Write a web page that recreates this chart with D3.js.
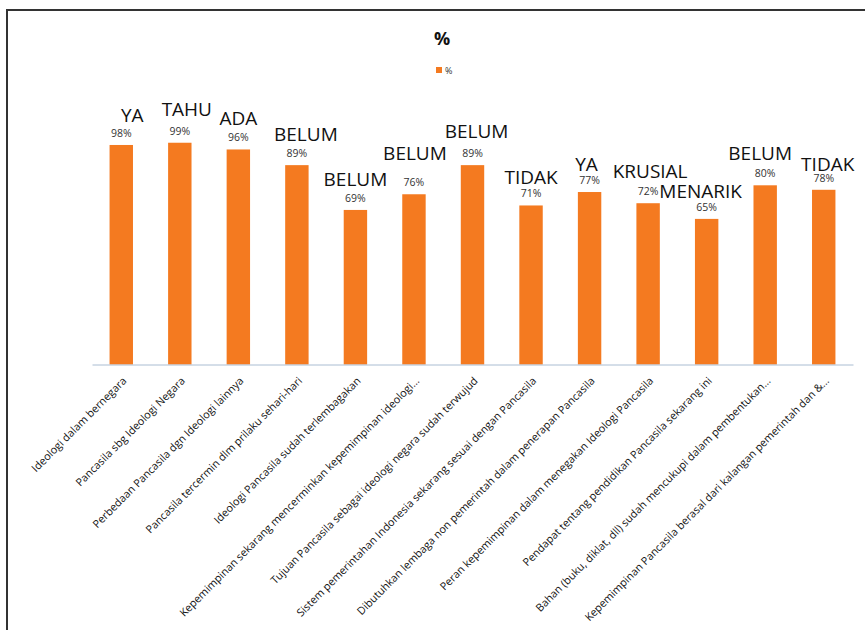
<!DOCTYPE html>
<html>
<head>
<meta charset="utf-8">
<script src="https://cdn.jsdelivr.net/npm/d3@7"></script>
<style>
  body { margin: 0; background: #fff; }
  text { font-family: 'Open Sans', sans-serif; }
</style>
</head>
<body>
<svg id="chart" width="865" height="630"></svg>
<script>
// survey items on the x axis
var categories = [
  'Ideologi dalam bernegara',
  'Pancasila sbg Ideologi Negara',
  'Perbedaan Pancasila dgn Ideologi lainnya',
  'Pancasila tercermin dlm prilaku sehari-hari',
  'Ideologi Pancasila sudah terlembagakan',
  'Kepemimpinan sekarang mencerminkan kepemimpinan ideologi...',
  'Tujuan Pancasila sebagai ideologi negara sudah terwujud',
  'Sistem pemerintahan Indonesia sekarang sesuai dengan Pancasila',
  'Dibutuhkan lembaga non pemerintah dalam penerapan Pancasila',
  'Peran kepemimpinan dalam menegakan Ideologi Pancasila',
  'Pendapat tentang pendidikan Pancasila sekarang ini',
  'Bahan (buku, diklat, dll) sudah mencukupi dalam pembentukan...',
  'Kepemimpinan Pancasila berasal dari kalangan pemerintah dan &...'
];

// share of respondents (%)
var values = [98, 99, 96, 89, 69, 76, 89, 71, 77, 72, 65, 80, 78];

// majority answer written above each bar
var answers = ['YA', 'TAHU', 'ADA', 'BELUM', 'BELUM', 'BELUM', 'BELUM', 'TIDAK', 'YA', 'KRUSIAL', 'MENARIK', 'BELUM', 'TIDAK'];

var seriesName = '%';

// hand placed nudges for the answer words, [dx, dy] in px
var answerNudge = [[11, 1], [7, -3], [0, 0], [9, 0], [0, 0], [1, -10], [4, -3], [0, 3], [-3, 3], [2, -1], [-6, 3], [-5, -1], [4, 5]];

var barColor = '#f47a20';

var svg = d3.select('#chart');

// frame (only top and left edges show)
svg.append('path')
  .attr('d', 'M7,630 V10 H865')
  .attr('fill', 'none')
  .attr('stroke', '#333')
  .attr('stroke-width', 2);

var x = d3.scaleBand()
  .domain(categories)
  .range([92, 853])
  .paddingInner(0.6)
  .paddingOuter(0.3);

var y = d3.scaleLinear()
  .domain([0, 100])
  .range([364.5, 140.5]);

// title + legend
svg.append('text')
  .attr('x', 442)
  .attr('y', 45)
  .attr('text-anchor', 'middle')
  .style('font-size', '18px')
  .style('font-weight', 'bold')
  .attr('fill', '#111')
  .text(seriesName);

svg.append('rect')
  .attr('x', 436).attr('y', 67)
  .attr('width', 6).attr('height', 6)
  .attr('fill', barColor);

svg.append('text')
  .attr('x', 445).attr('y', 73.5)
  .style('font-size', '9px')
  .attr('fill', '#333')
  .text(seriesName);

// bars
svg.append('g')
  .selectAll('rect')
  .data(values)
  .enter().append('rect')
    .attr('x', function(d, i) { return x(categories[i]); })
    .attr('y', function(d) { return y(d); })
    .attr('width', x.bandwidth())
    .attr('height', function(d) { return y(0) - y(d); })
    .attr('fill', barColor);

// x axis
var xAxis = svg.append('g')
  .attr('transform', 'translate(0,' + y(0) + ')')
  .call(d3.axisBottom(x).tickSize(0).tickFormat(''));
xAxis.select('.domain').attr('stroke', '#aabdd2').attr('stroke-width', 1);

svg.append('g')
  .selectAll('text')
  .data(categories)
  .enter().append('text')
    .attr('transform', function(d) {
      return 'translate(' + (x(d) + x.bandwidth() / 2 + 6) + ',' + (y(0) + 17) + ') rotate(-45)';
    })
    .attr('text-anchor', 'end')
    .style('font-size', '10.8px')
    .attr('fill', '#111')
    .text(function(d) { return d; });

// percentage labels
svg.append('g')
  .selectAll('text')
  .data(values)
  .enter().append('text')
    .attr('x', function(d, i) { return x(categories[i]) + x.bandwidth() / 2; })
    .attr('y', function(d) { return y(d) - 8; })
    .attr('text-anchor', 'middle')
    .style('font-size', '10.5px')
    .attr('fill', '#333')
    .text(function(d) { return d + '%'; });

// answer words
svg.append('g')
  .selectAll('text')
  .data(answers)
  .enter().append('text')
    .attr('x', function(d, i) { return x(categories[i]) + x.bandwidth() / 2 + answerNudge[i][0]; })
    .attr('y', function(d, i) { return y(values[i]) - 24 + answerNudge[i][1]; })
    .attr('text-anchor', 'middle')
    .style('font-size', '19px')
    .attr('fill', '#111')
    .text(function(d) { return d; });
</script>
</body>
</html>
